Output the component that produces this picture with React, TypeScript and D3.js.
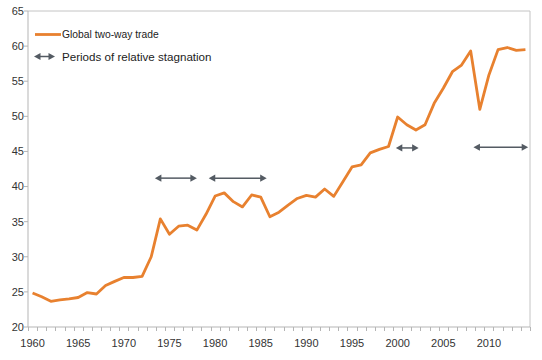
import React from "react";
import * as d3 from "d3";

const years: number[] = d3.range(1960, 2015);
const tradeValues: number[] = [
  24.85, 24.3, 23.65, 23.85, 24.0, 24.2, 24.9, 24.7, 25.9, 26.5,
  27.05, 27.05, 27.2, 30.0, 35.4, 33.2, 34.35, 34.5, 33.8, 36.05,
  38.65, 39.1, 37.85, 37.1, 38.8, 38.5, 35.7, 36.35, 37.35, 38.3,
  38.75, 38.5, 39.65, 38.6, 40.7, 42.8, 43.1, 44.8, 45.3, 45.7,
  49.9, 48.8, 48.05, 48.8, 51.85, 54.0, 56.35, 57.3, 59.3, 51.0,
  55.9, 59.5, 59.8, 59.4, 59.5,
];
const yTicks: number[] = [20, 25, 30, 35, 40, 45, 50, 55, 60, 65];
const xLabelYears: number[] = [1960, 1965, 1970, 1975, 1980, 1985, 1990, 1995, 2000, 2005, 2010];
const periodStarts: number[] = [1973.4, 1979.3, 1999.8, 2008.3];
const periodEnds: number[] = [1978.0, 1985.65, 2002.3, 2014.3];
const periodLevels: number[] = [41.2, 41.2, 45.5, 45.6];
const legendLabels: string[] = ["Global two-way trade", "Periods of relative stagnation"];

const W = 542, H = 360;
const L = 28, R = 530, T = 11, B = 327;
const ORANGE = "#E8812F";
const ARROW = "#545B63";
const FONT = "'Liberation Sans', Arial, sans-serif";

function Arrow({ x1, x2, y }: { x1: number; x2: number; y: number }) {
  const hl = 6.5, hw = 3.6;
  return (
    <g>
      <line x1={x1 + hl - 1} x2={x2 - hl + 1} y1={y} y2={y} stroke={ARROW} strokeWidth={1.5} />
      <path d={`M${x1},${y} L${x1 + hl},${y - hw} L${x1 + hl},${y + hw} Z`} fill={ARROW} />
      <path d={`M${x2},${y} L${x2 - hl},${y - hw} L${x2 - hl},${y + hw} Z`} fill={ARROW} />
    </g>
  );
}

export default function App() {
  const x = d3.scaleLinear().domain([1959.5, 2014.5]).range([L, R]);
  const y = d3.scaleLinear().domain([20, 65]).range([B, T]);
  const line = d3
    .line<number>()
    .x((_, i) => x(years[i]))
    .y((d) => y(d));
  const boundaries = d3.range(1959.5, 2015, 1);

  return (
    <svg width={W} height={H} style={{ position: "absolute", left: 0, top: 0, background: "#fff" }}>
      <rect x={0} y={0} width={W} height={H} fill="#fff" />
      {/* border */}
      <line x1={L} x2={R} y1={T} y2={T} stroke="#C4C4C4" strokeWidth={1} />
      <line x1={R} x2={R} y1={T} y2={B} stroke="#C4C4C4" strokeWidth={1} />
      {/* y axis */}
      <line x1={L} x2={L} y1={T} y2={B} stroke="#B5B5B5" strokeWidth={1} />
      {yTicks.map((t) => (
        <g key={t}>
          <line x1={L - 4} x2={L} y1={y(t)} y2={y(t)} stroke="#B5B5B5" />
          <text x={L - 4} y={y(t)} dy="0.35em" textAnchor="end" fontFamily={FONT} fontSize={11} fill="#333">
            {t}
          </text>
        </g>
      ))}
      {/* x axis */}
      <line x1={L} x2={R} y1={B} y2={B} stroke="#B5B5B5" strokeWidth={1} />
      {boundaries.map((b) => (
        <line key={b} x1={Math.round(x(b)) + 0.5} x2={Math.round(x(b)) + 0.5} y1={B} y2={B + 4} stroke="#B5B5B5" />
      ))}
      {xLabelYears.map((yr) => (
        <text key={yr} x={x(yr)} y={347} textAnchor="middle" fontFamily={FONT} fontSize={11} fill="#333">
          {yr}
        </text>
      ))}
      {/* series */}
      <path d={line(tradeValues) || ""} fill="none" stroke={ORANGE} strokeWidth={2.8} strokeLinejoin="round" />
      {/* stagnation arrows */}
      {periodStarts.map((s, i) => (
        <Arrow key={i} x1={x(s)} x2={x(periodEnds[i])} y={y(periodLevels[i])} />
      ))}
      {/* legend */}
      <line x1={35} x2={61} y1={34.5} y2={34.5} stroke={ORANGE} strokeWidth={2.8} />
      <text x={62} y={34.5} dy="0.35em" fontFamily={FONT} fontSize={10.3} fill="#222">
        {legendLabels[0]}
      </text>
      <Arrow x1={34} x2={55} y={56.5} />
      <text x={62} y={56.5} dy="0.35em" fontFamily={FONT} fontSize={11.6} fill="#222">
        {legendLabels[1]}
      </text>
    </svg>
  );
}
